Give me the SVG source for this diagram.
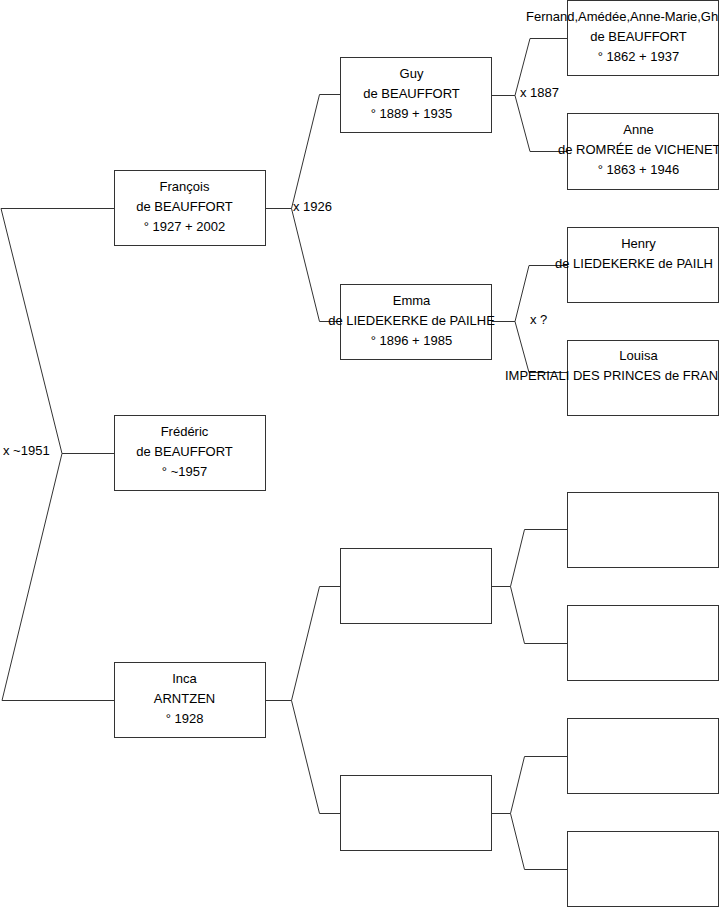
<svg xmlns="http://www.w3.org/2000/svg" width="719" height="908" viewBox="0 0 719 908">
<style>
.box{fill:#fff;stroke:#333;stroke-width:1}
.ln{fill:none;stroke:#333;stroke-width:1}
text{font-family:"Liberation Sans",Arial,sans-serif;font-size:13px;fill:#000}
.c{text-anchor:middle}
</style>
<rect width="719" height="908" fill="#fff"/>
<g id="connectors">
<polyline class="ln" points="114,208.5 1,208.5 62,453.5 2,700.5 114,700.5"/>
<line class="ln" x1="62" y1="453.5" x2="114" y2="453.5"/>
<polyline class="ln" points="340,94.5 319.5,94.5 291.5,208.5 319.5,321.5 340,321.5"/>
<line class="ln" x1="265" y1="208.5" x2="291.5" y2="208.5"/>
<polyline class="ln" points="340,586.5 319.5,586.5 291.5,700.5 319.5,813.5 340,813.5"/>
<line class="ln" x1="265" y1="700.5" x2="291.5" y2="700.5"/>
<polyline class="ln" points="567,38.5 530,38.5 515,95.5 530,151.5 567,151.5"/>
<line class="ln" x1="491.5" y1="95.5" x2="515" y2="95.5"/>
<polyline class="ln" points="567,265.5 529,265.5 515,321.5 529,372.5 567,372.5"/>
<line class="ln" x1="491.5" y1="321.5" x2="515" y2="321.5"/>
<polyline class="ln" points="567,529.5 524.5,529.5 510.5,586.5 524.5,643.5 567,643.5"/>
<line class="ln" x1="491.5" y1="586.5" x2="510.5" y2="586.5"/>
<polyline class="ln" points="567,756.5 524.5,756.5 510.5,813.5 524.5,869.5 567,869.5"/>
<line class="ln" x1="491.5" y1="813.5" x2="510.5" y2="813.5"/>
<text x="3" y="455">x ~1951</text>
<text x="293" y="211">x 1926</text>
<text x="520" y="97">x 1887</text>
<text x="530" y="323.5">x ?</text>
</g>
<g id="francois">
<rect class="box" x="114.5" y="170.5" width="151" height="75"/>
<text class="c" x="184.5" y="191">François</text>
<text class="c" x="184.5" y="211">de BEAUFFORT</text>
<text class="c" x="184.5" y="231">° 1927 + 2002</text>
</g>
<g id="frederic">
<rect class="box" x="114.5" y="415.5" width="151" height="75"/>
<text class="c" x="184.5" y="436">Frédéric</text>
<text class="c" x="184.5" y="456">de BEAUFFORT</text>
<text class="c" x="184.5" y="476">° ~1957</text>
</g>
<g id="inca">
<rect class="box" x="114.5" y="662.5" width="151" height="75"/>
<text class="c" x="184.5" y="683">Inca</text>
<text class="c" x="184.5" y="703">ARNTZEN</text>
<text class="c" x="184.5" y="723">° 1928</text>
</g>
<g id="guy">
<rect class="box" x="340.5" y="57.5" width="151" height="75"/>
<text class="c" x="411.5" y="78">Guy</text>
<text class="c" x="411.5" y="98">de BEAUFFORT</text>
<text class="c" x="411.5" y="118">° 1889 + 1935</text>
</g>
<g id="emma">
<rect class="box" x="340.5" y="284.5" width="151" height="75"/>
<text class="c" x="411.5" y="305">Emma</text>
<text class="c" x="411.5" y="325">de LIEDEKERKE de PAILHE</text>
<text class="c" x="411.5" y="345">° 1896 + 1985</text>
</g>
<g id="gen2c">
<rect class="box" x="340.5" y="548.5" width="151" height="75"/>
</g>
<g id="gen2d">
<rect class="box" x="340.5" y="775.5" width="151" height="75"/>
</g>
<g id="fernand">
<rect class="box" x="567.5" y="0.5" width="151" height="75"/>
<text x="526" y="21">Fernand,Amédée,Anne-Marie,Gh</text>
<text class="c" x="638.5" y="41">de BEAUFFORT</text>
<text class="c" x="638.5" y="61">° 1862 + 1937</text>
</g>
<g id="anne">
<rect class="box" x="567.5" y="113.5" width="151" height="76"/>
<text class="c" x="638.5" y="134">Anne</text>
<text x="558" y="154">de ROMRÉE de VICHENET</text>
<text class="c" x="638.5" y="174">° 1863 + 1946</text>
</g>
<g id="henry">
<rect class="box" x="567.5" y="227.5" width="151" height="75"/>
<text class="c" x="638.5" y="248">Henry</text>
<text x="555" y="268">de LIEDEKERKE de PAILH</text>
</g>
<g id="louisa">
<rect class="box" x="567.5" y="340.5" width="151" height="75"/>
<text class="c" x="638.5" y="360">Louisa</text>
<text x="505" y="379.5">IMPERIALI DES PRINCES de FRAN</text>
</g>
<g id="gen3e"><rect class="box" x="567.5" y="492.5" width="151" height="75"/></g>
<g id="gen3f"><rect class="box" x="567.5" y="605.5" width="151" height="75"/></g>
<g id="gen3g"><rect class="box" x="567.5" y="718.5" width="151" height="75"/></g>
<g id="gen3h"><rect class="box" x="567.5" y="831.5" width="151" height="75"/></g>
</svg>
